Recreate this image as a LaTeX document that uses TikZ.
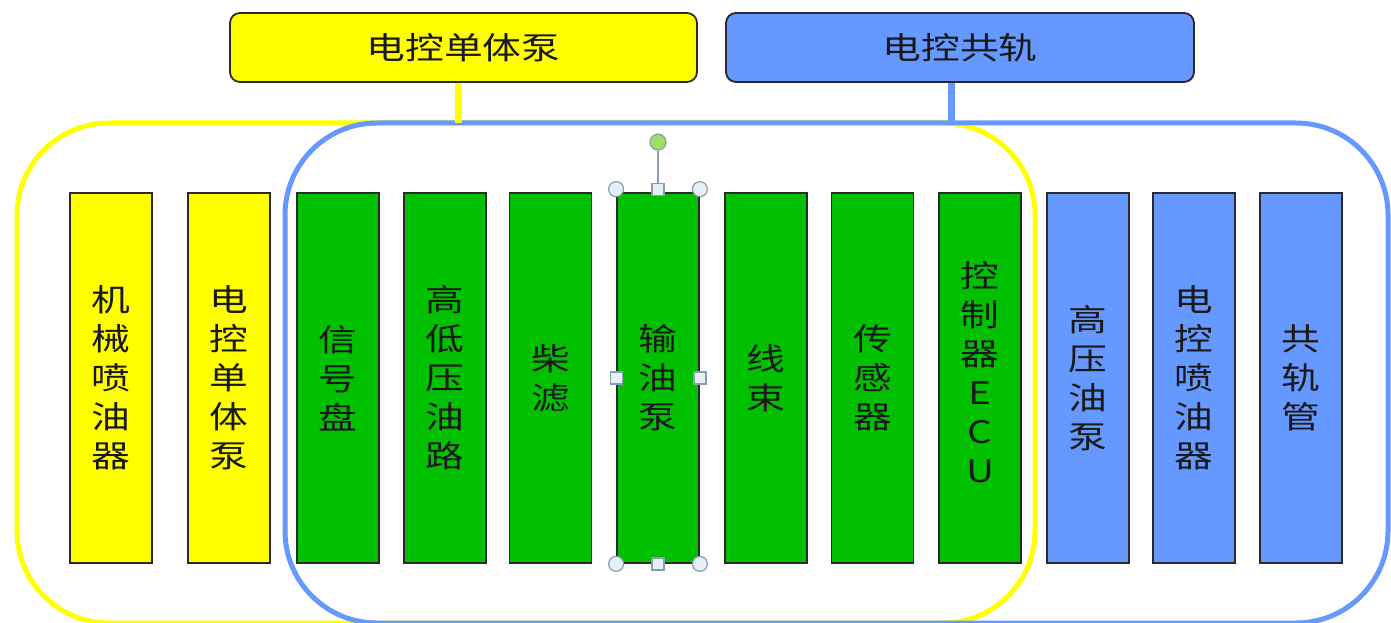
\documentclass[tikz,border=0pt]{standalone}
\usepackage{fontspec}
\newfontfamily\cjk[FakeStretch=1.25]{Noto Sans CJK SC}
\definecolor{yel}{HTML}{FFFF00}
\definecolor{grn}{HTML}{00C000}
\definecolor{blu}{HTML}{6699FF}
\definecolor{edge}{HTML}{2A2A2A}
\definecolor{hgray}{HTML}{8C9CB0}
\definecolor{hfill}{HTML}{E4F0F8}
\definecolor{hgreen}{HTML}{9CE060}
\begin{document}
\begin{tikzpicture}[x=1pt,y=-1pt,
  bartext/.style={inner sep=0pt, align=center, text=black!90, font=\cjk\fontsize{31}{39}\selectfont},
  bar/.style={bartext, draw=edge, line width=1.8pt, minimum width=82pt, minimum height=370pt},
  head/.style={draw=edge, line width=1.8pt, rounded corners=10pt, minimum width=467pt,
    minimum height=69pt, inner sep=0pt, text=black!90, font=\cjk\fontsize{31}{36}\selectfont},
  group/.style={line width=5pt, rounded corners=92pt, inner sep=0pt, outer sep=0pt},
  conn/.style={line width=7pt},
  hcirc/.style={circle, draw=hgray, fill=hfill, minimum size=15pt, inner sep=0pt, line width=1.2pt},
  hsq/.style={rectangle, draw=hgray, fill=hfill, minimum size=12pt, inner sep=0pt, line width=1.2pt}]
\fill[white] (0,0) rectangle (1391,623);
\useasboundingbox (0,0) rectangle (1391,623);

% group outlines
\node[group, draw=yel, minimum width=1018pt, minimum height=500pt] (yg) at (526,373) {};
\node[group, draw=blu, minimum width=1103pt, minimum height=500pt] (bg) at (836.5,373) {};

% header boxes
\node[head, fill=yel] (t1) at (463.5,47.5) {电控单体泵};
\node[head, fill=blu, minimum width=468pt] (t2) at (960,47.5) {电控共轨};

% connectors
\coordinate (c1) at ([xshift=-5.5pt]t1.south);
\coordinate (c2) at ([xshift=-9pt]t2.south);
\draw[conn, draw=yel] (c1) -- (c1 |- yg.north);
\draw[conn, draw=blu] (c2) -- (c2 |- bg.north);

% bars
\node[bar, fill=yel] (b1) at (111,378) {机\\械\\喷\\油\\器};
\node[bar, fill=yel] (b2) at (229,378) {电\\控\\单\\体\\泵};
\node[bar, fill=grn] (b3) at (338,378) {信\\号\\盘};
\node[bar, fill=grn] (b4) at (445,378) {高\\低\\压\\油\\路};
\node[bar, fill=grn] (b5) at (550.5,378) {柴\\滤};
\node[bar, fill=grn] (b6) at (658,378) {输\\油\\泵};
\node[bar, fill=grn] (b7) at (766,378) {线\\束};
\node[bar, fill=grn] (b8) at (872.5,378) {传\\感\\器};
\node[bar, fill=grn] (b9) at (980,378) {};
\node[bartext] (b9t) at ([yshift=6pt]b9.center) {控\\制\\器\\E\\C\\U};
\node[bar, fill=blu] (b10) at (1088,378) {高\\压\\油\\泵};
\node[bar, fill=blu] (b11) at (1194,378) {电\\控\\喷\\油\\器};
\node[bar, fill=blu] (b12) at (1301,378) {共\\轨\\管};

% selection handles on b6
\node[hcirc, fill=hgreen, minimum size=16pt] (rot) at ([yshift=50pt]b6.north) {};
\draw[hgray, line width=1.5pt] (rot) -- (b6.north);
\node[hcirc] at ([yshift=3pt]b6.north west) {};
\node[hcirc] at ([yshift=3pt]b6.north east) {};
\node[hcirc] at (b6.south west) {};
\node[hcirc] at (b6.south east) {};
\node[hsq] at ([yshift=3pt]b6.north) {};
\node[hsq] at (b6.south) {};
\node[hsq] at (b6.west) {};
\node[hsq] at (b6.east) {};
\end{tikzpicture}
\end{document}
